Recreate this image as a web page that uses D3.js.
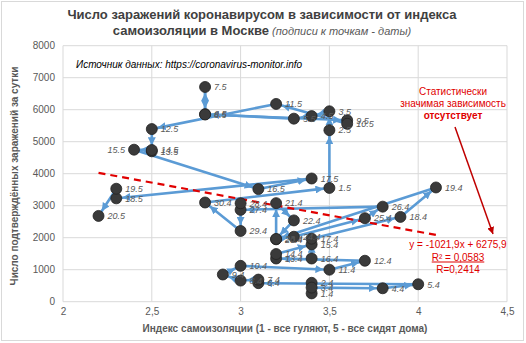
<!DOCTYPE html>
<html><head><meta charset="utf-8">
<script src="https://cdn.jsdelivr.net/npm/d3@7"></script>
<style>
body{margin:0;background:#fff;}
svg text{font-family:"Liberation Sans",Arial,sans-serif;}
</style></head>
<body><svg id="c" width="526" height="343"></svg>
<script>
const dates = ["1.4","2.4","3.4","4.4","5.4","6.4","7.4","8.4","9.4","10.4","11.4","12.4","13.4","14.4","15.4","16.4","17.4","18.4","19.4","20.4","21.4","22.4","23.4","24.4","25.4","26.4","27.4","28.4","29.4","30.4","1.5","2.5","3.5","4.5","5.5","6.5","7.5","8.5","9.5","10.5","11.5","12.5","13.5","14.5","15.5","16.5","17.5","18.5","19.5","20.5"];
const isoIndex = [3.4,3.4,3.4,3.8,4.0,3.1,3.1,3.0,2.9,3.0,3.5,3.7,3.2,3.2,3.4,3.4,3.4,3.9,4.1,3.2,3.2,3.3,3.2,3.3,3.7,3.8,3.0,3.0,3.0,2.8,3.5,3.5,3.5,3.4,3.3,2.8,2.8,2.8,3.6,3.6,3.2,2.5,2.5,2.5,2.4,3.1,3.4,2.3,2.3,2.2];
const cases = [260,590,440,420,545,580,690,660,850,1120,1000,1280,1350,1490,1790,1350,1970,2650,3570,1950,3080,2540,1960,2030,2610,2970,2870,3075,2210,3100,3555,5360,5950,5800,5720,5860,6710,5850,5670,5560,6180,5395,4700,4740,4750,3520,3850,3230,3530,2680];
const leftLabels = ["15.5"];
const xTicks = [2,2.5,3,3.5,4,4.5];
const yTicks = [0,1000,2000,3000,4000,5000,6000,7000,8000];
const trendCoef = [-1021.9, 6275.9];
const eqLines = ["y = -1021,9x + 6275,9","R² = 0,0583","R=0,2414"];
const noteLines = ["Статистически","значимая зависимость","отсутствует"];

const svg = d3.select("#c");
const x = d3.scaleLinear().domain([2,4.5]).range([63,507]);
const y = d3.scaleLinear().domain([0,8000]).range([301.7,45.7]);
const fmt = d => String(d).replace(".", ",");

svg.append("rect").attr("x",1.5).attr("y",1.5).attr("width",522).attr("height",339)
  .attr("fill","#fff").attr("stroke","#d9d9d9");

const defs = svg.append("defs");
defs.append("marker").attr("id","arr").attr("markerUnits","userSpaceOnUse")
  .attr("viewBox","0 0 10 10").attr("refX",10).attr("refY",5)
  .attr("markerWidth",8).attr("markerHeight",8).attr("orient","auto")
  .append("path").attr("d","M0,0 L10,5 L0,10 z").attr("fill","#5b9bd5");
defs.append("marker").attr("id","arrRed").attr("markerUnits","userSpaceOnUse")
  .attr("viewBox","0 0 10 10").attr("refX",10).attr("refY",5)
  .attr("markerWidth",7).attr("markerHeight",7).attr("orient","auto")
  .append("path").attr("d","M0,0 L10,5 L0,10 z").attr("fill","#c00000");

// gridlines
svg.append("g").selectAll("line").data(yTicks).join("line")
  .attr("x1",x(2)).attr("x2",x(4.5)).attr("y1",d=>y(d)).attr("y2",d=>y(d))
  .attr("stroke","#d9d9d9").attr("stroke-width",1);
svg.append("g").selectAll("line").data(xTicks).join("line")
  .attr("y1",y(0)).attr("y2",y(8000)).attr("x1",d=>x(d)).attr("x2",d=>x(d))
  .attr("stroke","#d9d9d9").attr("stroke-width",1);

// tick labels via axes
const ya = svg.append("g").attr("transform",`translate(${x(2)-8},0)`)
  .call(d3.axisLeft(y).tickValues(yTicks).tickSize(0).tickPadding(0).tickFormat(d=>d));
const xa = svg.append("g").attr("transform",`translate(0,${y(0)+6})`)
  .call(d3.axisBottom(x).tickValues(xTicks).tickSize(0).tickPadding(0).tickFormat(fmt));
[ya,xa].forEach(a=>{a.select(".domain").remove();
  a.selectAll("text").attr("fill","#595959").attr("font-size","10px")
   .style("font-family","'Liberation Sans',Arial,sans-serif");});

// data
const pts = dates.map((d,i)=>({d, px:x(isoIndex[i]), py:y(cases[i])}));
const R = 5.5;
const segs = [];
for(let i=0;i<pts.length-1;i++){
  const a=pts[i], b=pts[i+1];
  const dx=b.px-a.px, dy=b.py-a.py, L=Math.hypot(dx,dy);
  if(L < R*2+2) { if(L>0.5) segs.push({x1:a.px,y1:a.py,x2:b.px,y2:b.py,arrow:false}); continue; }
  segs.push({x1:a.px,y1:a.py,x2:b.px-dx/L*(R+0.5),y2:b.py-dy/L*(R+0.5),arrow:true});
}
svg.append("g").selectAll("line").data(segs).join("line")
  .attr("x1",d=>d.x1).attr("y1",d=>d.y1).attr("x2",d=>d.x2).attr("y2",d=>d.y2)
  .attr("stroke","#5b9bd5").attr("stroke-width",2.6).attr("stroke-linecap","round")
  .attr("marker-end",d=>d.arrow?"url(#arr)":null);

// trendline
const tx = d3.extent(isoIndex);
svg.append("line").attr("x1",x(tx[0])).attr("y1",y(trendCoef[0]*tx[0]+trendCoef[1]))
  .attr("x2",x(tx[1])).attr("y2",y(trendCoef[0]*tx[1]+trendCoef[1]))
  .attr("stroke","#e00000").attr("stroke-width",2.2).attr("stroke-dasharray","7,5");

// markers
svg.append("g").selectAll("circle").data(pts).join("circle")
  .attr("cx",d=>d.px).attr("cy",d=>d.py).attr("r",R)
  .attr("fill","#3a3a3a").attr("stroke","#222").attr("stroke-width",0.8);

// point labels
svg.append("g").selectAll("text").data(pts).join("text")
  .attr("x",d=>leftLabels.includes(d.d)? d.px-9 : d.px+9)
  .attr("y",d=>d.py+3.3)
  .attr("text-anchor",d=>leftLabels.includes(d.d)?"end":"start")
  .attr("font-size","9px").attr("font-style","italic").attr("fill","#595959")
  .text(d=>d.d);

// title
const t1 = svg.append("text").attr("x",262).attr("y",19).attr("text-anchor","middle")
  .attr("font-size","13px").attr("font-weight","bold").attr("fill","#404040")
  .text("Число заражений коронавирусом в зависимости от индекса");
const t2 = svg.append("text").attr("x",262).attr("y",35).attr("text-anchor","middle")
  .attr("fill","#404040");
t2.append("tspan").attr("font-size","13px").attr("font-weight","bold").text("самоизоляции в Москве");
t2.append("tspan").attr("font-size","11px").attr("font-style","italic").attr("fill","#595959").text(" (подписи к точкам - даты)");

// source
svg.append("text").attr("x",76).attr("y",67.5).attr("font-size","10px").attr("font-style","italic")
  .attr("fill","#000").text("Источник данных: https://coronavirus-monitor.info");

// axis titles
svg.append("text").attr("transform","translate(18,176) rotate(-90)").attr("text-anchor","middle")
  .attr("font-size","10px").attr("font-weight","bold").attr("fill","#595959")
  .text("Число подтверждённых заражений за сутки");
svg.append("text").attr("x",285).attr("y",332).attr("text-anchor","middle")
  .attr("font-size","10px").attr("font-weight","bold").attr("fill","#595959")
  .text("Индекс самоизоляции (1 - все гуляют, 5 - все сидят дома)");

// red note
svg.append("g").selectAll("text").data(noteLines).join("text")
  .attr("x",453).attr("y",(d,i)=>94.5+i*12).attr("text-anchor","middle")
  .attr("font-size","10px").attr("fill","#e00000")
  .attr("font-weight",(d,i)=>i===2?"bold":"normal").text(d=>d);
svg.append("line").attr("x1",455).attr("y1",127).attr("x2",493).attr("y2",234)
  .attr("stroke","#c00000").attr("stroke-width",1.5).attr("marker-end","url(#arrRed)");

// equation
svg.append("g").selectAll("text").data(eqLines).join("text")
  .attr("x",458).attr("y",(d,i)=>248+i*12.5).attr("text-anchor","middle")
  .attr("font-size","10px").attr("fill","#e00000")
  .attr("text-decoration",(d,i)=>i===1?"underline":null).text(d=>d);
</script></body></html>
